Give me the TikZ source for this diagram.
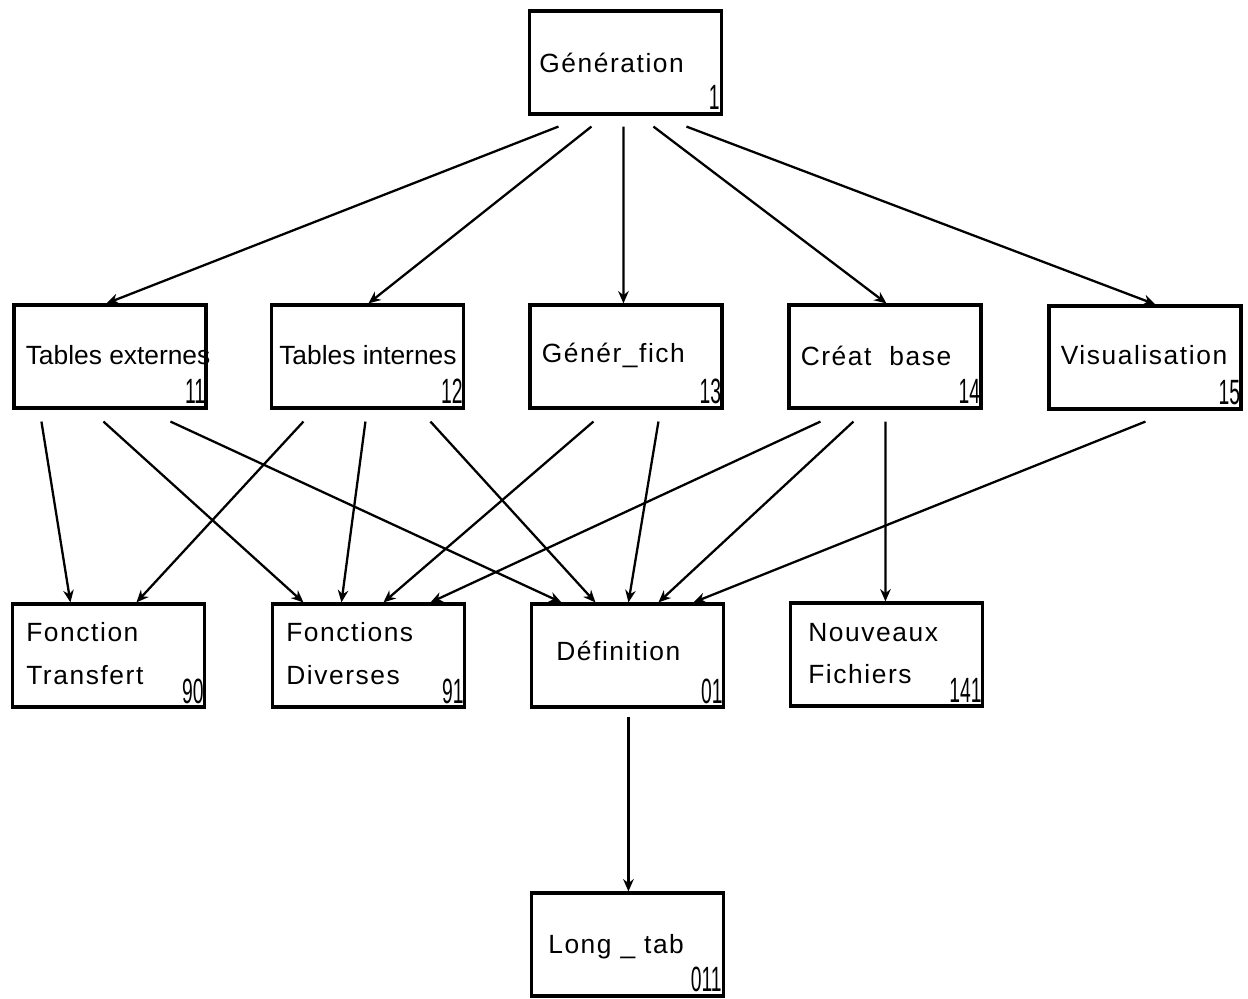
\documentclass[tikz,border=0pt]{standalone}
\usepackage{fontspec}
\setmainfont{Liberation Sans}[LetterSpace=6]
\newfontfamily\narrowfont{Liberation Sans}[LetterSpace=0]
\usepackage{graphicx}
\usetikzlibrary{calc,arrows.meta}
\tikzset{
  box/.style={draw, line width=1.8pt, minimum width=3.84cm, minimum height=2.06cm, inner sep=0pt},
  txt/.style={anchor=west, inner sep=0pt, font=\fontsize{15}{18}\selectfont, align=left},
  num/.style={anchor=base east, inner sep=0pt, font=\narrowfont\fontsize{20}{20}\selectfont},
  arr/.style={line width=1.3pt, -{Stealth[length=7pt,width=6pt]}}
}
\newcommand{\nm}[1]{\scalebox{0.55}[1]{#1}}
\begin{document}
\begin{tikzpicture}[x=0.02cm,y=-0.02cm]
\useasboundingbox (0,0) rectangle (1248,999);
% boxes
\node[box] (gen) at (625.5,62.5) {};
\node[box] (te) at (110,356.5) {};
\node[box] (ti) at (367.5,356.5) {};
\node[box] (gf) at (626,356.5) {};
\node[box] (cb) at (885,356.5) {};
\node[box] (vi) at (1145,357.5) {};
\node[box] (ft) at (108.5,655.5) {};
\node[box] (fd) at (368.5,655.5) {};
\node[box] (de) at (627.5,655.5) {};
\node[box] (nf) at (886.5,654.5) {};
\node[box] (lt) at (627.5,944.5) {};
% texts
\node[txt] (gent) at ($(gen.west)+(11,0)$) {Génération};
\node[txt, font=\narrowfont\fontsize{15}{18}\selectfont] (tet) at ($(te.west)+(13,-1)$) {Tables externes};
\node[txt, font=\narrowfont\fontsize{15}{18}\selectfont] (tit) at ($(ti.west)+(9,-1)$) {Tables internes};
\node[txt] (gft) at ($(gf.west)+(13,-1)$) {Génér\_fich};
\node[txt] (cbt) at ($(cb.west)+(13,-1)$) {Créat\ \ base};
\node[txt] (vit) at ($(vi.west)+(13,-2)$) {Visualisation};
\node[txt] (ftt) at ($(ft.west)+(15,-2)$) {Fonction\\[6pt]Transfert};
\node[txt] (fdt) at ($(fd.west)+(15,-2)$) {Fonctions\\[6pt]Diverses};
\node[txt] (det) at ($(de.west)+(26,-5)$) {Définition};
\node[txt] (nft) at ($(nf.west)+(19,-1)$) {Nouveaux\\[6pt]Fichiers};
\node[txt] (ltt) at ($(lt.west)+(18,2)$) {Long \_ tab};
% numbers
\node[num] (genn) at ($(gen.south east)+(-3,-6)$) {\nm{1}};
\node[num] (ten) at ($(te.south east)+(-2,-6)$) {\nm{11}};
\node[num] (tin) at ($(ti.south east)+(-2,-6)$) {\nm{12}};
\node[num] (gfn) at ($(gf.south east)+(-2,-6)$) {\nm{13}};
\node[num] (cbn) at ($(cb.south east)+(-2,-6)$) {\nm{14}};
\node[num] (vin) at ($(vi.south east)+(-2,-6)$) {\nm{15}};
\node[num] (ftn) at ($(ft.south east)+(-2,-5)$) {\nm{90}};
\node[num] (fdn) at ($(fd.south east)+(-2,-5)$) {\nm{91}};
\node[num] (den) at ($(de.south east)+(-2,-5)$) {\nm{01}};
\node[num] (nfn) at ($(nf.south east)+(-2,-5)$) {\nm{141}};
\node[num] (ltn) at ($(lt.south east)+(-3,-6)$) {\nm{011}};
% arrows from Generation
\draw[arr] ($(gen.south west)+(30.5,11)$) -- ($(te.north west)+(94,0)$);
\draw[arr] ($(gen.south west)+(63.5,11)$) -- ($(ti.north west)+(98.5,0)$);
\draw[arr] ($(gen.south west)+(95.5,11)$) -- ($(gf.north west)+(95,0)$);
\draw[arr] ($(gen.south west)+(125.5,11)$) -- ($(cb.north west)+(99,0)$);
\draw[arr] ($(gen.south west)+(158.5,11)$) -- ($(vi.north west)+(108,0)$);
% from Tables externes
\draw[arr] ($(te.south west)+(29,12)$) -- ($(ft.north west)+(59.5,0)$);
\draw[arr] ($(te.south west)+(91,12)$) -- ($(fd.north west)+(32.5,0)$);
\draw[arr] ($(te.south west)+(158,12)$) -- ($(de.north west)+(31.5,0)$);
% from Tables internes
\draw[arr] ($(ti.south west)+(33.5,12)$) -- ($(ft.north west)+(125.5,0)$);
\draw[arr] ($(ti.south west)+(95.5,12)$) -- ($(fd.north west)+(70.5,0)$);
\draw[arr] ($(ti.south west)+(160.5,12)$) -- ($(de.north west)+(65.5,0)$);
% from Gener_fich
\draw[arr] ($(gf.south west)+(65,12)$) -- ($(fd.north west)+(112.5,0)$);
\draw[arr] ($(gf.south west)+(130,12)$) -- ($(de.north west)+(98.5,0)$);
% from Creat base
\draw[arr] ($(cb.south west)+(33,12)$) -- ($(fd.north west)+(159.5,0)$);
\draw[arr] ($(cb.south west)+(66,12)$) -- ($(de.north west)+(128.5,0)$);
\draw[arr] ($(cb.south west)+(98,12)$) -- ($(nf.north west)+(96.5,0)$);
% from Visualisation
\draw[arr] ($(vi.south west)+(98,11)$) -- ($(de.north west)+(163.5,0)$);
% Definition to Long_tab
\draw[arr] ($(de.south west)+(98.5,8)$) -- ($(lt.north west)+(98.5,0)$);
\end{tikzpicture}
\end{document}
